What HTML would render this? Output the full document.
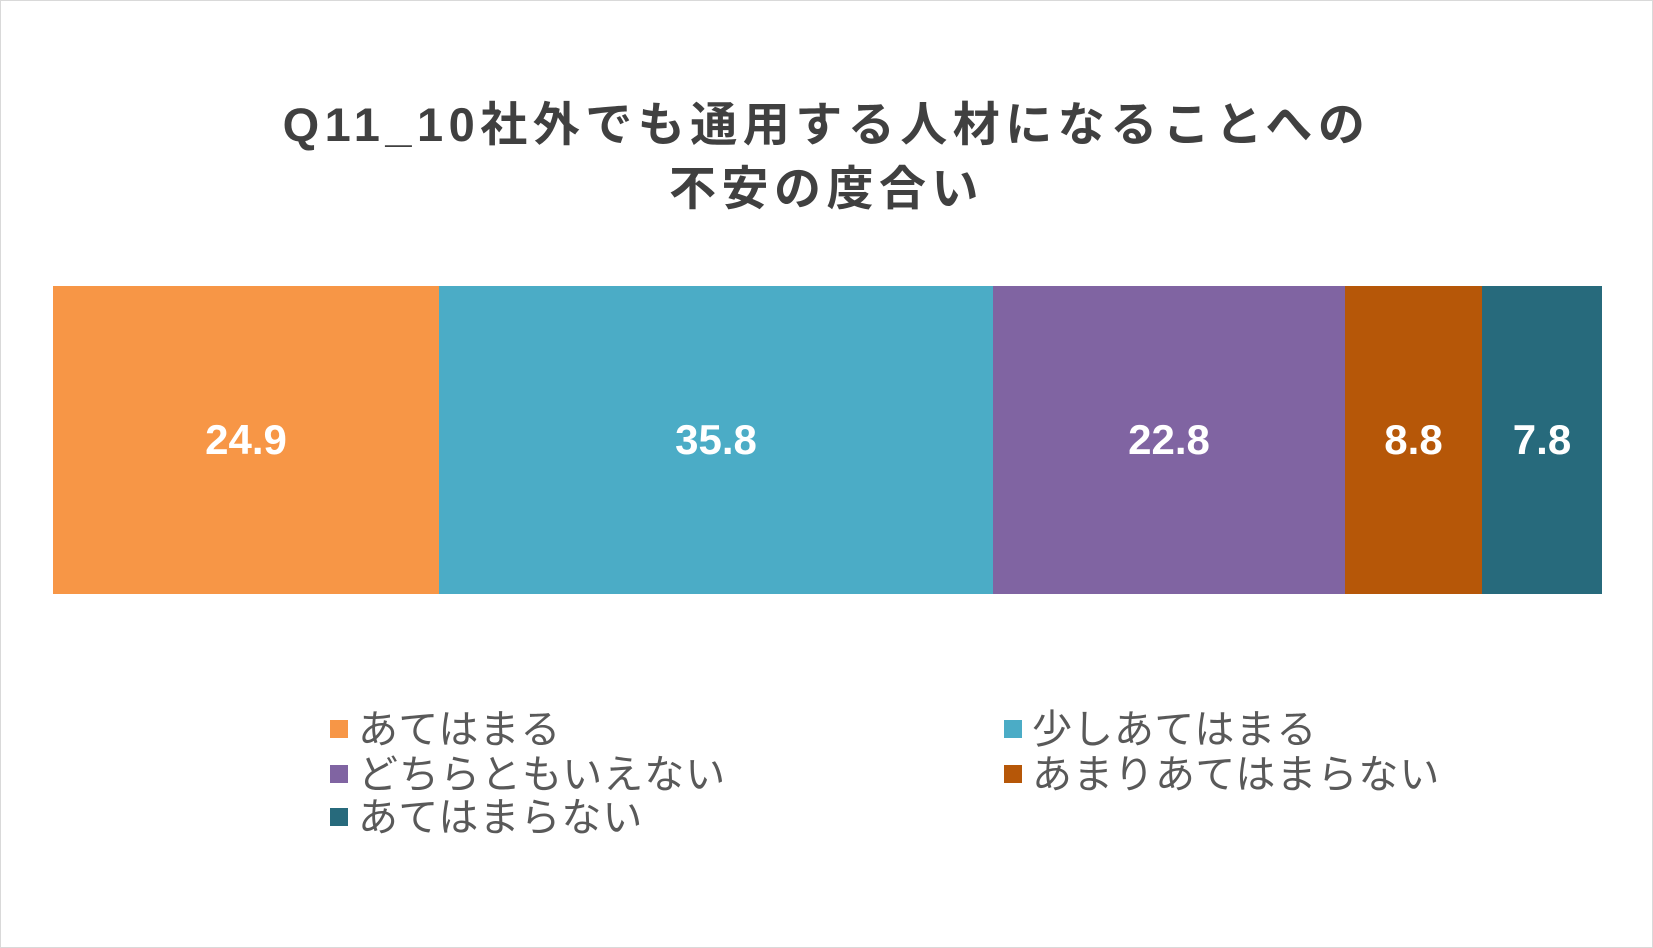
<!DOCTYPE html>
<html><head><meta charset="utf-8"><style>
body{margin:0;background:#fff;}
#c{position:relative;width:1651px;height:946px;border:1px solid #d9d9d9;overflow:hidden;font-family:"Liberation Sans","Noto Sans CJK JP",sans-serif;}
.t{position:absolute;left:0;width:1651px;text-align:center;font-weight:bold;color:#404040;font-size:47px;letter-spacing:5.5px;line-height:60px;}
.seg{position:absolute;top:285px;height:308px;display:flex;align-items:center;justify-content:center;color:#fff;font-weight:bold;font-size:42px;}
.lg{position:absolute;font-size:40px;letter-spacing:1px;color:#595959;line-height:44px;white-space:nowrap;}
.lg i{display:inline-block;width:18px;height:18px;margin-right:10px;vertical-align:middle;position:relative;top:-3px;}
</style></head><body><div id="c">
<div class="t" style="top:94px">Q11_10社外でも通用する人材になることへの</div>
<div class="t" style="top:158px">不安の度合い</div>
<div class="seg" style="left:52px;width:386px;background:#f79646">24.9</div>
<div class="seg" style="left:438px;width:554px;background:#4bacc6">35.8</div>
<div class="seg" style="left:992px;width:352px;background:#8064a2">22.8</div>
<div class="seg" style="left:1344px;width:137px;background:#b65708">8.8</div>
<div class="seg" style="left:1481px;width:120px;background:#276a7c">7.8</div>
<div class="lg" style="left:329px;top:707px"><i style="background:#f79646"></i>あてはまる</div>
<div class="lg" style="left:1003px;top:707px"><i style="background:#4bacc6"></i>少しあてはまる</div>
<div class="lg" style="left:329px;top:752px"><i style="background:#8064a2"></i>どちらともいえない</div>
<div class="lg" style="left:1003px;top:752px"><i style="background:#b65708"></i>あまりあてはまらない</div>
<div class="lg" style="left:329px;top:795px"><i style="background:#276a7c"></i>あてはまらない</div>
</div></body></html>
